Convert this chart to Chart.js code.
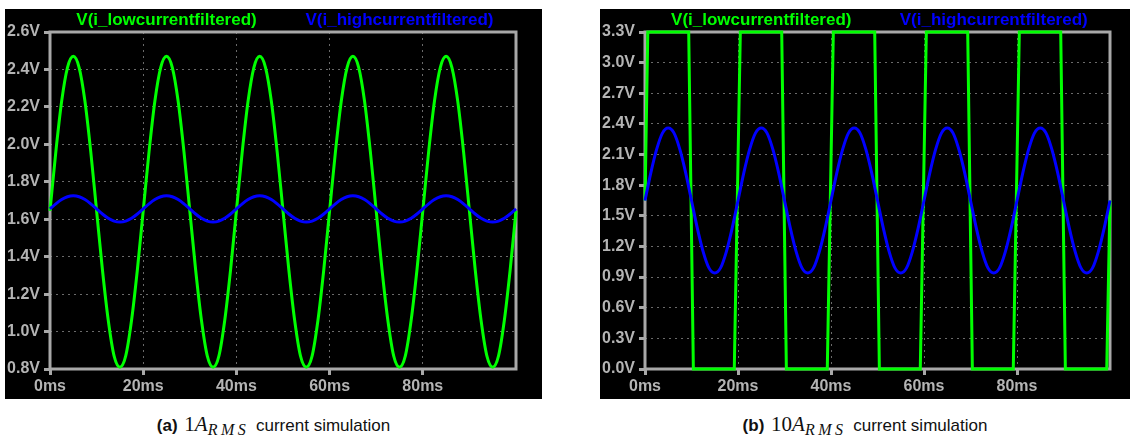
<!DOCTYPE html>
<html>
<head>
<meta charset="utf-8">
<script src="https://cdn.jsdelivr.net/npm/chart.js@4/dist/chart.umd.min.js"></script>
<style>
  html, body { margin: 0; padding: 0; background: #fff; }
  body { width: 1130px; height: 435px; position: relative; overflow: hidden; }
  .panel { position: absolute; top: 9px; background: #000; }
  .panel canvas { display: block; }
  .cap {
    position: absolute; top: 414px; text-align: center;
    font: 17px "Liberation Sans", Arial, sans-serif; color: #111; line-height: 20px;
  }
  .cap .m { font-family: "Liberation Serif", "DejaVu Serif", serif; font-size: 21px; margin: 0 2px; }
  .cap .m sub { font-size: 16px; vertical-align: -4px; letter-spacing: 3.5px; }
</style>
</head>
<body>
<div class="panel" style="left:5px"><canvas id="chart-a" width="537" height="390"></canvas></div>
<div class="panel" style="left:600px"><canvas id="chart-b" width="530" height="390"></canvas></div>
<div class="cap" style="left:5px;width:537px"><b>(a)</b> <span class="m">1<i>A</i><sub><i>RMS</i></sub></span> current simulation</div>
<div class="cap" style="left:600px;width:530px"><b>(b)</b> <span class="m">10<i>A</i><sub><i>RMS</i></sub></span> current simulation</div>

<script>
// Sample times (ms) for the filtered sine traces
const timeMs = [
  0, 1.25, 2.5, 3.75, 5, 6.25, 7.5, 8.75, 10, 11.25, 12.5, 13.75, 15, 16.25, 17.5, 18.75,
  20, 21.25, 22.5, 23.75, 25, 26.25, 27.5, 28.75, 30, 31.25, 32.5, 33.75, 35, 36.25, 37.5, 38.75,
  40, 41.25, 42.5, 43.75, 45, 46.25, 47.5, 48.75, 50, 51.25, 52.5, 53.75, 55, 56.25, 57.5, 58.75,
  60, 61.25, 62.5, 63.75, 65, 66.25, 67.5, 68.75, 70, 71.25, 72.5, 73.75, 75, 76.25, 77.5, 78.75,
  80, 81.25, 82.5, 83.75, 85, 86.25, 87.5, 88.75, 90, 91.25, 92.5, 93.75, 95, 96.25, 97.5, 98.75,
  100,
];

// (a) 1 A RMS
const lowCurrentA = [
  1.645, 1.96, 2.23, 2.41, 2.47, 2.41, 2.23, 1.96, 1.645, 1.33, 1.06, 0.87, 0.81, 0.87, 1.06, 1.33,
  1.645, 1.96, 2.23, 2.41, 2.47, 2.41, 2.23, 1.96, 1.645, 1.33, 1.06, 0.87, 0.81, 0.87, 1.06, 1.33,
  1.645, 1.96, 2.23, 2.41, 2.47, 2.41, 2.23, 1.96, 1.645, 1.33, 1.06, 0.87, 0.81, 0.87, 1.06, 1.33,
  1.645, 1.96, 2.23, 2.41, 2.47, 2.41, 2.23, 1.96, 1.645, 1.33, 1.06, 0.87, 0.81, 0.87, 1.06, 1.33,
  1.645, 1.96, 2.23, 2.41, 2.47, 2.41, 2.23, 1.96, 1.645, 1.33, 1.06, 0.87, 0.81, 0.87, 1.06, 1.33,
  1.645,
];
const highCurrentA = [
  1.655, 1.682, 1.705, 1.72, 1.725, 1.72, 1.705, 1.682, 1.655, 1.628, 1.605, 1.59, 1.585, 1.59, 1.605, 1.628,
  1.655, 1.682, 1.705, 1.72, 1.725, 1.72, 1.705, 1.682, 1.655, 1.628, 1.605, 1.59, 1.585, 1.59, 1.605, 1.628,
  1.655, 1.682, 1.705, 1.72, 1.725, 1.72, 1.705, 1.682, 1.655, 1.628, 1.605, 1.59, 1.585, 1.59, 1.605, 1.628,
  1.655, 1.682, 1.705, 1.72, 1.725, 1.72, 1.705, 1.682, 1.655, 1.628, 1.605, 1.59, 1.585, 1.59, 1.605, 1.628,
  1.655, 1.682, 1.705, 1.72, 1.725, 1.72, 1.705, 1.682, 1.655, 1.628, 1.605, 1.59, 1.585, 1.59, 1.605, 1.628,
  1.655,
];

// (b) 10 A RMS - low-current channel saturates, so it is kept as corner points
const lowCurrentBTime = [
  0, 0.6,
  9.4, 10.4, 19.2, 20.5,
  29.4, 30.4, 39.2, 40.5,
  49.4, 50.4, 59.2, 60.5,
  69.4, 70.4, 79.2, 80.5,
  89.4, 90.4, 99.3, 100,
];
const lowCurrentB = [
  1.65, 3.3,
  3.3, 0, 0, 3.3,
  3.3, 0, 0, 3.3,
  3.3, 0, 0, 3.3,
  3.3, 0, 0, 3.3,
  3.3, 0, 0, 1.65,
];
const highCurrentB = [
  1.65, 1.92, 2.15, 2.31, 2.36, 2.31, 2.15, 1.92, 1.65, 1.38, 1.15, 0.99, 0.94, 0.99, 1.15, 1.38,
  1.65, 1.92, 2.15, 2.31, 2.36, 2.31, 2.15, 1.92, 1.65, 1.38, 1.15, 0.99, 0.94, 0.99, 1.15, 1.38,
  1.65, 1.92, 2.15, 2.31, 2.36, 2.31, 2.15, 1.92, 1.65, 1.38, 1.15, 0.99, 0.94, 0.99, 1.15, 1.38,
  1.65, 1.92, 2.15, 2.31, 2.36, 2.31, 2.15, 1.92, 1.65, 1.38, 1.15, 0.99, 0.94, 0.99, 1.15, 1.38,
  1.65, 1.92, 2.15, 2.31, 2.36, 2.31, 2.15, 1.92, 1.65, 1.38, 1.15, 0.99, 0.94, 0.99, 1.15, 1.38,
  1.65,
];

// Axis ticks
const xTicks = [0, 20, 40, 60, 80];
const yTicksA = [0.8, 1.0, 1.2, 1.4, 1.6, 1.8, 2.0, 2.2, 2.4, 2.6];
const yTicksB = [0.0, 0.3, 0.6, 0.9, 1.2, 1.5, 1.8, 2.1, 2.4, 2.7, 3.0, 3.3];

const traceLabels = ['V(i_lowcurrentfiltered)', 'V(i_highcurrentfiltered)'];

const GREEN = '#00ff00';
const BLUE = '#0000ff';
const AXIS = '#a8a8a8';
const TEXT = '#b4b4b4';
const GRID = '#6a6a6a';
const FONT = '"Liberation Sans", Arial, sans-serif';

const toPoints = (xs, ys) => xs.map((x, i) => ({ x, y: ys[i] }));

/** Grey frame under the traces, trace names above the plot (LTspice style) */
const scopeDecor = {
  id: 'scopeDecor',
  beforeDatasetsDraw(chart) {
    const { ctx, chartArea: a } = chart;
    ctx.save();
    ctx.strokeStyle = AXIS;
    ctx.lineWidth = 3;
    ctx.strokeRect(a.left, a.top, a.right - a.left, a.bottom - a.top);
    ctx.restore();
  },
  afterDraw(chart) {
    const { ctx, chartArea: a } = chart;
    ctx.save();
    ctx.font = `bold 17px ${FONT}`;
    ctx.textAlign = 'center';
    ctx.textBaseline = 'middle';
    const w = a.right - a.left;
    chart.data.datasets.forEach((ds, i) => {
      ctx.fillStyle = ds.borderColor;
      ctx.fillText(ds.label, a.left + w * (i === 0 ? 0.25 : 0.75), 11);
    });
    ctx.restore();
  },
};

function scopeChart(id, datasets, yMin, yMax, yTicks, rightPad) {
  const tickFont = { family: FONT, size: 16, weight: 'bold' };
  return new Chart(document.getElementById(id), {
    type: 'line',
    data: { datasets },
    options: {
      responsive: false,
      animation: false,
      events: [],
      layout: { padding: { top: 23, right: rightPad, left: 0, bottom: 0 } },
      elements: { point: { radius: 0 } },
      plugins: { legend: { display: false }, tooltip: { enabled: false } },
      scales: {
        x: {
          type: 'linear',
          min: 0,
          max: 100,
          afterBuildTicks: s => { s.ticks = xTicks.map(value => ({ value })); },
          afterFit: s => { s.height = 30; },
          grid: { color: GRID, lineWidth: 1, tickColor: AXIS, tickWidth: 3, tickLength: 6 },
          border: { display: false, dash: [2, 4] },
          ticks: { color: TEXT, font: tickFont, padding: 2, maxRotation: 0, callback: v => v + 'ms' },
        },
        y: {
          type: 'linear',
          min: yMin,
          max: yMax,
          afterBuildTicks: s => { s.ticks = yTicks.map(value => ({ value })); },
          afterFit: s => { s.width = 45; },
          grid: { color: GRID, lineWidth: 1, tickColor: AXIS, tickWidth: 3, tickLength: 6 },
          border: { display: false, dash: [2, 4] },
          ticks: { color: TEXT, font: tickFont, padding: 4, callback: v => v.toFixed(1) + 'V' },
        },
      },
    },
    plugins: [scopeDecor],
  });
}

scopeChart('chart-a', [
  {
    label: traceLabels[0], data: toPoints(timeMs, lowCurrentA), clip: 3,
    borderColor: GREEN, borderWidth: 3, cubicInterpolationMode: 'monotone', order: 1,
  },
  {
    label: traceLabels[1], data: toPoints(timeMs, highCurrentA), clip: 3,
    borderColor: BLUE, borderWidth: 3, cubicInterpolationMode: 'monotone', order: 0,
  },
], 0.8, 2.6, yTicksA, 26);

scopeChart('chart-b', [
  {
    label: traceLabels[0], data: toPoints(lowCurrentBTime, lowCurrentB), clip: 3,
    borderColor: GREEN, borderWidth: 3, tension: 0, order: 1,
  },
  {
    label: traceLabels[1], data: toPoints(timeMs, highCurrentB), clip: 3,
    borderColor: BLUE, borderWidth: 3, cubicInterpolationMode: 'monotone', order: 0,
  },
], 0, 3.3, yTicksB, 20);
</script>
</body>
</html>
